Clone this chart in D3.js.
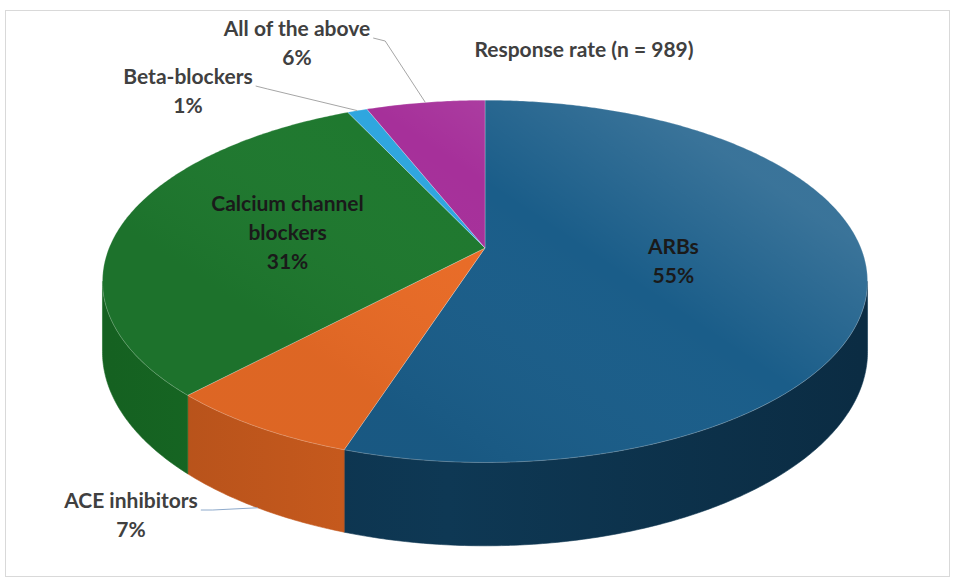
<!DOCTYPE html>
<html>
<head>
<meta charset="utf-8">
<script src="https://cdn.jsdelivr.net/npm/d3@7"></script>
<style>
  html, body { margin: 0; padding: 0; background: #ffffff; }
  svg { display: block; }
  text { font-family: Lato, "Open Sans", sans-serif; font-weight: 700; }
</style>
</head>
<body>
<svg id="chart" width="957" height="579"></svg>
<script>
// ---- data ----
const categories = ["ARBs", "ACE inhibitors", "Calcium channel blockers", "Beta-blockers", "All of the above"];
const shares = [55, 7, 31, 1, 6];
const labelNames = [["ARBs"], ["ACE inhibitors"], ["Calcium channel", "blockers"], ["Beta-blockers"], ["All of the above"]];
const chartTitle = "Response rate (n = 989)";

// ---- styles ----
const topColors  = ["#1a5d89", "#e96b26", "#1e782e", "#2fa6df", "#a6309a"];
const sideColors = ["#0d3550", "#c3581c", "#176a24", "#2589ba", "#86287b"];

const svg = d3.select("#chart");

// frame
svg.append("rect")
  .attr("x", 5.5).attr("y", 10.5).attr("width", 944).attr("height", 566)
  .attr("fill", "#fff").attr("stroke", "#d9d9d9").attr("stroke-width", 1);

// ---- perspective projection of a tilted disc ----
const cx = 485, cy = 248;      // projected centre of the disc
const A = 376, B = 175;        // horizontal / vertical semi-axes
const k = 0.184;               // perspective strength (far side shrinks)
const depth = 68;              // thickness of the disc

function proj(t, f = 1, down = 0) {
  const s = 1 / (1 + k * f * Math.cos(t));
  return [cx + A * f * Math.sin(t) * s, cy - B * f * Math.cos(t) * s + down * s];
}

const pie = d3.pie().sort(null).value(d => d).startAngle(0).endAngle(2 * Math.PI);
const arcs = pie(shares).map((a, i) => ({ ...a, i, name: categories[i] }));

const line = d3.line();

function rimPoints(a0, a1, down = 0) {
  const n = Math.max(2, Math.ceil(Math.abs(a1 - a0) / 0.01));
  return d3.range(n + 1).map(j => proj(a0 + (a1 - a0) * j / n, 1, down));
}

// visible front wall lies between the two silhouette tangents
const tRight = Math.acos(-k), tLeft = 2 * Math.PI - Math.acos(-k);

const defs = svg.append("defs");

// side wall gradients: darker toward the outer edges, brighter at the front
arcs.forEach(d => {
  const g = defs.append("linearGradient").attr("id", "side" + d.i)
    .attr("gradientUnits", "userSpaceOnUse")
    .attr("x1", cx - A).attr("y1", 0).attr("x2", cx + A).attr("y2", 0);
  const c = d3.color(sideColors[d.i]);
  g.append("stop").attr("offset", 0).attr("stop-color", c.darker(0.25));
  g.append("stop").attr("offset", 0.45).attr("stop-color", c.brighter(0.15));
  g.append("stop").attr("offset", 1).attr("stop-color", c.darker(0.5));
});

// soft lighting over the far part of the top face
const lg = defs.append("linearGradient").attr("id", "topLight")
  .attr("gradientUnits", "userSpaceOnUse")
  .attr("x1", cx + 160).attr("y1", 100).attr("x2", cx - 60).attr("y2", 430);
lg.append("stop").attr("offset", 0).attr("stop-color", "#ffffff").attr("stop-opacity", 0.14);
lg.append("stop").attr("offset", 0.4).attr("stop-color", "#ffffff").attr("stop-opacity", 0.0);
lg.append("stop").attr("offset", 1).attr("stop-color", "#000000").attr("stop-opacity", 0.05);

const gPie = svg.append("g");

// side walls
arcs.forEach(d => {
  const a0 = Math.max(d.startAngle, tRight), a1 = Math.min(d.endAngle, tLeft);
  if (a1 <= a0) return;
  const pts = rimPoints(a0, a1).concat(rimPoints(a1, a0, depth));
  gPie.append("path")
    .attr("d", line(pts) + "Z")
    .attr("fill", `url(#side${d.i})`)
    .attr("stroke", sideColors[d.i]).attr("stroke-width", 0.6);
});

// top faces
arcs.forEach(d => {
  const pts = [[cx, cy]].concat(rimPoints(d.startAngle, d.endAngle));
  gPie.append("path")
    .attr("d", line(pts) + "Z")
    .attr("fill", topColors[d.i])
    .attr("stroke", "#ffffff").attr("stroke-opacity", 0.3).attr("stroke-width", 0.8);
});
gPie.append("path")
  .attr("d", line(rimPoints(0, 2 * Math.PI)) + "Z")
  .attr("fill", "url(#topLight)");

// ---- labels ----
const textColor = "#404040";
const fs = 21, lh = 29;

function block(x, y, lines, color) {
  const t = svg.append("text").attr("text-anchor", "middle")
    .attr("font-size", fs).attr("fill", color);
  lines.forEach((s, j) => t.append("tspan").attr("x", x).attr("y", y + j * lh).text(s));
  return t;
}

// inside labels, placed along the slice's middle angle
const inside = { 0: 0.5, 2: 0.54 };
Object.entries(inside).forEach(([i, f]) => {
  const d = arcs[+i];
  const mid = (d.startAngle + d.endAngle) / 2;
  const [x, y] = proj(mid, f);
  const lines = labelNames[d.i].concat([shares[d.i] + "%"]);
  block(x, y - (lines.length - 1) * lh / 2 + 7, lines, "#1a1a1a");
});

// outside labels with leader lines to the rim
const outside = [
  { i: 4, x: 297, y: 36, down: 0 },
  { i: 3, x: 188, y: 84, down: 0 },
  { i: 1, x: 131, y: 508, down: depth }
];
const leaderColor = { 4: "#a6a6a6", 3: "#a6a6a6", 1: "#8eaacb" };
outside.forEach(o => {
  const d = arcs[o.i];
  const mid = (d.startAngle + d.endAngle) / 2;
  const tip = proj(mid, 1, o.down);
  const t = block(o.x, o.y, labelNames[d.i].concat([shares[d.i] + "%"]), textColor);
  const w = t.select("tspan").node().getComputedTextLength();
  const start = [o.x + w / 2 + 3, o.y + 2];
  const elbow = [start[0] + 12, start[1] + (o.down ? 0 : 3)];
  svg.append("path")
    .attr("d", line([start, elbow, tip]))
    .attr("fill", "none").attr("stroke", leaderColor[o.i]).attr("stroke-width", 1);
});

// title
svg.append("text")
  .attr("x", 584).attr("y", 57)
  .attr("text-anchor", "middle")
  .attr("font-size", 21).attr("fill", textColor)
  .text(chartTitle);
</script>
</body>
</html>
